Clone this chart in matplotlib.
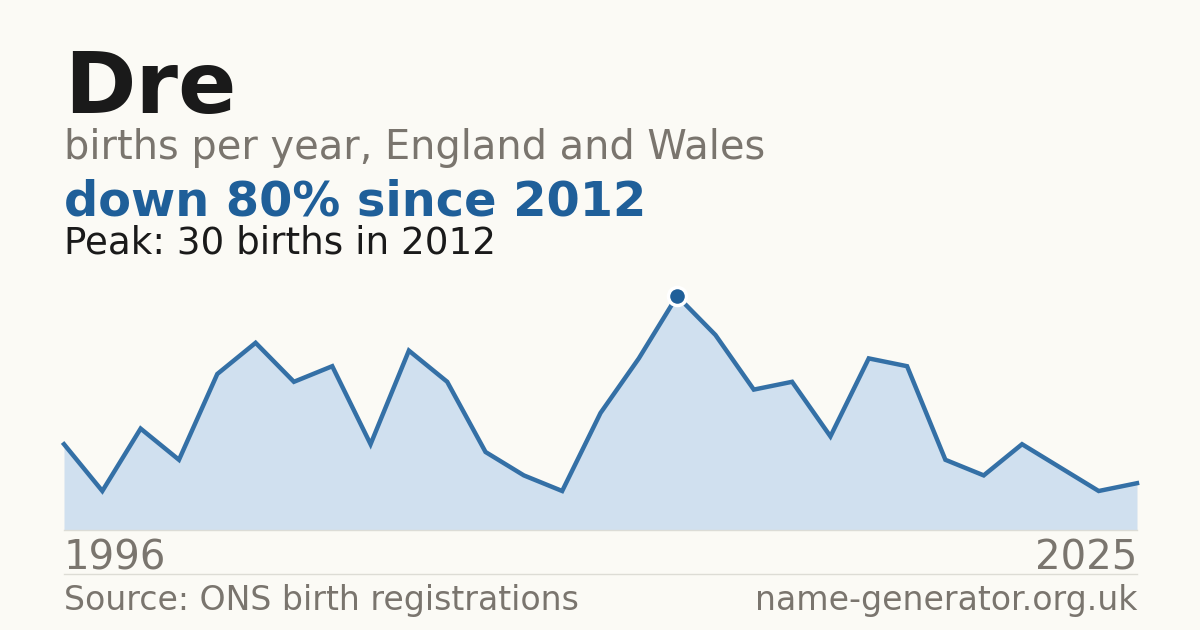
import matplotlib
matplotlib.use("Agg")
import matplotlib.pyplot as plt
import numpy as np

# births per year for the name
births = [11, 5, 13, 9, 20, 24, 19, 21, 11, 23, 19, 10, 7, 5, 15, 22,
          30, 25, 18, 19, 12, 22, 21, 9, 7, 11, 8, 5, 6]
first_year = 1996
last_year = 2025
peak_year = 2012

name = "Dre"
subtitle = "births per year, England and Wales"
source = "Source: ONS birth registrations"
site = "name-generator.org.uk"

BG = "#fbfaf5"
BLUE = "#1f5f99"
LINE = "#3470a6"
FILL = "#d0e0ef"
GREY = "#7a756e"
INK = "#1a1a1a"

peak = max(births)
peak_i = births.index(peak)
drop = round((1 - births[-1] / peak) * 100)

fig = plt.figure(figsize=(12, 6.3), dpi=100, facecolor=BG)

W, H = 1200, 630
def fx(px):
    return px / W
def fy(py):
    return 1 - py / H

# chart area: x 64..1137, y 296 (peak) .. 530 (zero)
ax = fig.add_axes([fx(64), fy(530), fx(1137) - fx(64), fy(296) - fy(530)])
ax.set_facecolor(BG)
xs = np.arange(len(births))
ax.fill_between(xs, births, 0, color=FILL, lw=0)
ax.plot(xs, births, color=LINE, lw=3.2, solid_joinstyle="miter", clip_on=False)
ax.plot([peak_i], [peak], "o", ms=13, mfc=BLUE, mec="white", mew=2.5, clip_on=False, zorder=5)
ax.axhline(0, color="#dcdcd6", lw=1, clip_on=False)
ax.set_xlim(0, len(births) - 1)
ax.set_ylim(0, peak)
ax.axis("off")

# header text
fig.text(fx(64), fy(113), name, fontsize=62, fontweight="bold", color=INK, va="baseline")
fig.text(fx(64), fy(159), subtitle, fontsize=28.7, color=GREY, va="baseline")
fig.text(fx(64), fy(215), f"down {drop}% since {peak_year}", fontsize=34.5, fontweight="bold",
         color=BLUE, va="baseline")
fig.text(fx(64), fy(253), f"Peak: {peak} births in {peak_year}", fontsize=26.8, color=INK, va="baseline")

# axis year labels
fig.text(fx(64), fy(570), str(first_year), fontsize=29, color=GREY, va="baseline")
fig.text(fx(1137), fy(570), str(last_year), fontsize=29, color=GREY, va="baseline", ha="right")

# footer
fig.add_artist(plt.Line2D([fx(64), fx(1137)], [fy(574), fy(574)], color="#dddcd5", lw=1))
fig.text(fx(64), fy(610), source, fontsize=23.9, color=GREY, va="baseline")
fig.text(fx(1137), fy(610), site, fontsize=23.9, color=GREY, va="baseline", ha="right")

fig.savefig("out.png", dpi=100, facecolor=BG)
